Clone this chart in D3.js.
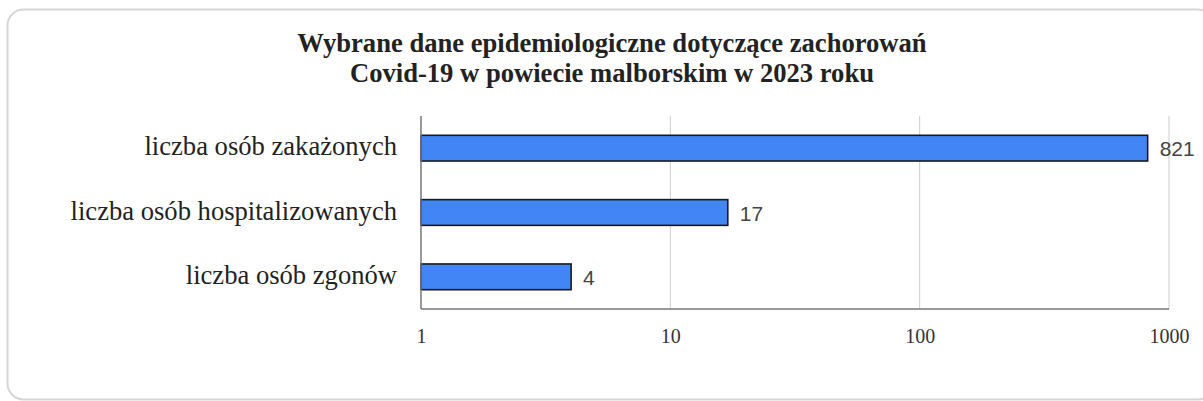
<!DOCTYPE html>
<html>
<head>
<meta charset="utf-8">
<script src="https://cdn.jsdelivr.net/npm/d3@7/dist/d3.min.js"></script>
<style>
  html, body { margin: 0; padding: 0; background: #fff; }
  svg { display: block; }
</style>
</head>
<body>
<svg id="chart" width="1203" height="401"></svg>
<script>
const titleLines = ["Wybrane dane epidemiologiczne dotyczące zachorowań", "Covid-19 w powiecie malborskim w 2023 roku"];
const categories = ["liczba osób zakażonych", "liczba osób hospitalizowanych", "liczba osób zgonów"];
const values = [821, 17, 4];
const tickValues = [1, 10, 100, 1000];
const tickLabels = ["1", "10", "100", "1000"];

const svg = d3.select("#chart");

// card
svg.append("rect")
  .attr("x", 7.5).attr("y", 9.5)
  .attr("width", 1206).attr("height", 390)
  .attr("rx", 16).attr("ry", 16)
  .attr("fill", "#fff")
  .attr("stroke", "#d6d6d6")
  .attr("stroke-width", 2);

const plot = { left: 421, right: 1169, top: 116, bottom: 309 };

const x = d3.scaleLog().domain([1, 1000]).range([plot.left, plot.right]);
const y = d3.scaleBand().domain(categories).range([plot.top, plot.bottom])
  .paddingInner(0.6).paddingOuter(0.3);

// title
const title = svg.append("text")
  .attr("text-anchor", "middle")
  .attr("font-family", "'Liberation Serif', 'Times New Roman', serif")
  .attr("font-weight", "bold")
  .attr("font-size", "26.6px")
  .attr("fill", "#222");
titleLines.forEach((t, i) => {
  title.append("tspan").attr("x", 612).attr("y", 52 + i * 30).text(t);
});

// gridlines
svg.append("g")
  .selectAll("line")
  .data(tickValues.filter(v => v !== 1))
  .join("line")
  .attr("x1", d => x(d)).attr("x2", d => x(d))
  .attr("y1", plot.top).attr("y2", plot.bottom)
  .attr("stroke", "#cccccc")
  .attr("stroke-width", 1);

// x axis (labels only)
const xAxis = d3.axisBottom(x)
  .tickValues(tickValues)
  .tickFormat((d, i) => tickLabels[i])
  .tickSize(0)
  .tickPadding(0);
const gx = svg.append("g")
  .attr("transform", `translate(0,${plot.bottom})`)
  .call(xAxis);
gx.select(".domain").remove();
gx.selectAll("text")
  .attr("font-family", "'Liberation Serif', 'Times New Roman', serif")
  .attr("font-size", "20px")
  .attr("fill", "#333")
  .attr("dy", null)
  .attr("y", 34);

// bars
svg.append("g")
  .selectAll("rect")
  .data(values)
  .join("rect")
  .attr("x", x(1))
  .attr("y", (d, i) => y(categories[i]))
  .attr("width", d => x(d) - x(1))
  .attr("height", y.bandwidth())
  .attr("fill", "#4285f4")
  .attr("stroke", "#1a1a1a")
  .attr("stroke-width", 1.6);

// value labels
svg.append("g")
  .selectAll("text")
  .data(values)
  .join("text")
  .attr("x", d => x(d) + 12)
  .attr("y", (d, i) => y(categories[i]) + y.bandwidth() / 2 + 8)
  .attr("font-family", "'Liberation Sans', Arial, sans-serif")
  .attr("font-size", "21px")
  .attr("fill", "#444")
  .text(d => d);

// y axis labels
const yAxis = d3.axisLeft(y).tickSize(0).tickPadding(0);
const gy = svg.append("g")
  .attr("transform", `translate(${plot.left},0)`)
  .call(yAxis);
gy.select(".domain").remove();
gy.selectAll("text")
  .attr("font-family", "'Liberation Serif', 'Times New Roman', serif")
  .attr("font-size", "26.6px")
  .attr("fill", "#222")
  .attr("dy", null)
  .attr("x", -24)
  .attr("y", 7);

// axis lines
svg.append("line")
  .attr("x1", plot.left).attr("x2", plot.left)
  .attr("y1", plot.top).attr("y2", plot.bottom)
  .attr("stroke", "#777").attr("stroke-width", 1.5);
svg.append("line")
  .attr("x1", plot.left).attr("x2", plot.right)
  .attr("y1", plot.bottom).attr("y2", plot.bottom)
  .attr("stroke", "#777").attr("stroke-width", 1.5);
</script>
</body>
</html>
